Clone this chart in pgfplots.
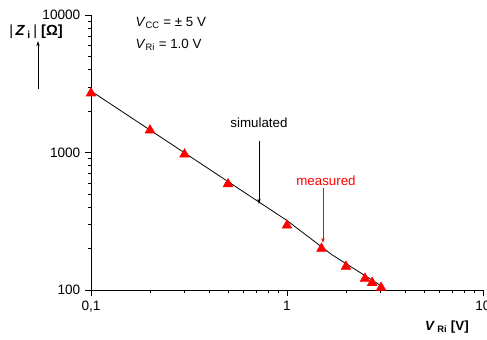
\documentclass[border=0pt]{standalone}
\usepackage{fontspec}
\setmainfont{Liberation Sans}
\usepackage{pgfplots}
\pgfplotsset{compat=1.18}
\usetikzlibrary{arrows.meta}
\begin{document}
\begin{tikzpicture}
\useasboundingbox (0,0) rectangle (365.25pt,255pt);
\begin{axis}[
  at={(68.25pt,37.5pt)}, anchor=south west,
  scale only axis, width=294pt, height=206.25pt,
  xmode=log, ymode=log,
  xmin=0.1, xmax=10, ymin=100, ymax=10000,
  axis lines=left, axis line style={-, line width=0.6pt},
  tick align=outside, major tick length=4.5pt, minor tick length=2.5pt,
  tick style={black, line width=0.5pt},
  xtick={0.1,1,10}, xticklabels={{0,1},1,10},
  ytick={100,1000,10000}, yticklabels={100,1000,10000},
  every tick label/.append style={font=\fontsize{10.2}{12}\selectfont},
  /pgf/number format/assume math mode=true,
  clip=false,
]
\addplot[black, line width=0.6pt, no marks] coordinates {(0.1,2800) (1,320) (1.7,180) (3,108)};
\addplot[only marks, mark=triangle*, mark size=4.2pt, red, mark options={fill=red, draw=red}] coordinates {
  (0.1,2700) (0.2,1450) (0.3,970) (0.5,590) (1,295) (1.5,200) (2,148) (2.5,121) (2.72,113) (3.02,104)};
\end{axis}
\begin{scope}[x=0.75pt, y=-0.75pt, shift={(0pt,255pt)}, font=\fontsize{10}{12}\selectfont]
  \node[anchor=west] at (131,23) {\textit{V}\textsubscript{CC} = ± 5 V};
  \node[anchor=west] at (131,45) {\textit{V}\textsubscript{Ri} = 1.0 V};
  \node[font=\fontsize{11}{13}\selectfont] at (36,32) {\textbar\,\textbf{\textit{Z}}\,\textsubscript{\textbf{i}}\,\textbar\ \textbf{[Ω]}};
  \draw[-{Stealth[length=4pt,width=2.5pt]}, line width=0.5pt] (38,89) -- (38,41);
  \node at (447,327) {\textbf{\textit{V}\,\textsubscript{Ri} [V]}};
  \node at (259,123) {simulated};
  \draw[-{Stealth[length=4pt,width=2.5pt]}, line width=0.5pt] (259,141) -- (259,204);
  \node[red] at (326,181) {measured};
  \draw[red, -{Stealth[length=4pt,width=2.5pt]}, line width=0.5pt] (323,188) -- (323,243);
\end{scope}
\end{tikzpicture}
\end{document}
